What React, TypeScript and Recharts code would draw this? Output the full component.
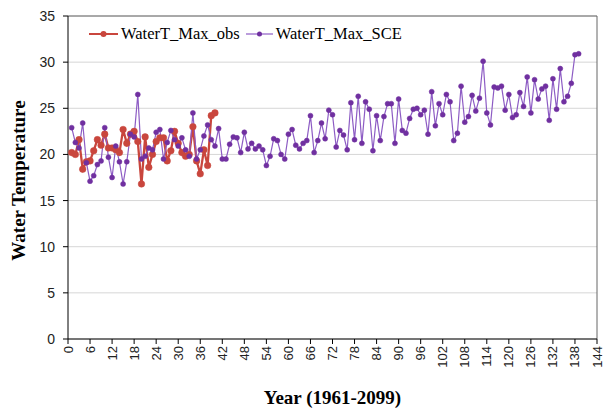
import React from 'react';
import { LineChart, Line, XAxis, YAxis, CartesianGrid, Legend, ReferenceLine } from 'recharts';

const obsName = 'WaterT_Max_obs';
const sceName = 'WaterT_Max_SCE';

const obsValues = [
  20.2, 20.0, 21.6, 18.4, 19.2, 19.3, 20.4, 21.6, 21.0, 22.2,
  20.7, 20.7, 20.5, 20.2, 22.7, 21.2, 22.2, 22.5, 21.4, 16.8,
  21.9, 18.6, 20.0, 21.4, 21.8, 21.8, 19.3, 20.4, 22.5, 21.2,
  20.2, 19.8, 20.0, 23.0, 19.3, 17.9, 20.5, 18.8, 24.2, 24.5,
];

const sceValues = [
  22.9, 21.3, 20.7, 23.4, 19.1, 17.1, 17.7, 18.9, 19.3, 22.9,
  19.7, 17.5, 20.9, 19.2, 16.8, 19.2, 22.2, 21.9, 26.5, 19.5,
  19.8, 20.7, 20.5, 22.4, 22.7, 19.5, 21.3, 22.6, 21.6, 20.9,
  21.8, 20.5, 19.8, 24.5, 19.5, 20.5, 22.0, 23.2, 21.6, 20.9,
  22.8, 19.5, 19.5, 21.1, 21.9, 21.8, 20.2, 22.4, 20.6, 21.2,
  20.6, 20.9, 20.5, 18.8, 19.8, 21.7, 21.5, 20.0, 19.5, 22.2,
  22.7, 21.0, 20.6, 21.2, 21.5, 24.2, 20.2, 21.5, 23.4, 21.7,
  24.8, 24.3, 20.8, 22.6, 22.1, 20.5, 25.6, 21.6, 26.3, 21.2,
  25.7, 24.9, 20.4, 24.2, 21.5, 24.1, 25.5, 25.5, 21.2, 26.0,
  22.6, 22.3, 23.9, 24.9, 25.0, 24.3, 24.8, 22.2, 26.8, 23.1,
  25.5, 24.3, 26.5, 25.7, 21.5, 22.3, 27.4, 23.5, 24.1, 26.4,
  24.7, 26.1, 30.1, 24.5, 23.2, 27.3, 27.2, 27.4, 24.8, 26.5,
  24.0, 24.3, 26.7, 25.2, 28.4, 24.5, 28.1, 26.0, 27.1, 27.4,
  23.7, 28.2, 24.9, 29.3, 25.7, 26.3, 27.7, 30.8, 30.9,
];

const xTicks = [0, 6, 12, 18, 24, 30, 36, 42, 48, 54, 60, 66, 72, 78, 84, 90, 96, 102, 108, 114, 120, 126, 132, 138, 144];
const yTicks = [0, 5, 10, 15, 20, 25, 30, 35];

const data = sceValues.map((v, i) => ({
  year: i + 1,
  sce: v,
  obs: i < obsValues.length ? obsValues[i] : null,
}));

const obsColor = '#c9463d';
const sceColor = '#7030a0';
const sceLine = '#8d5cc4';

const XTick = (props: any) => {
  const { x, y, payload } = props;
  return (
    <text
      x={x}
      y={y}
      transform={`rotate(-90 ${x} ${y})`}
      textAnchor="end"
      dominantBaseline="central"
      fontSize={13}
      fontFamily="Liberation Sans"
      fill="#222"
    >
      {payload.value}
    </text>
  );
};

const YTitle = (props: any) => {
  const vb = props.viewBox || { x: 0, y: 16, width: 68, height: 323 };
  const cx = vb.x + 18;
  const cy = vb.y + vb.height / 2 + 3;
  return (
    <text
      x={cx}
      y={cy}
      transform={`rotate(-90 ${cx} ${cy})`}
      textAnchor="middle"
      dominantBaseline="central"
      fontSize={19}
      fontWeight="bold"
      fontFamily="Liberation Serif"
      fill="#000"
    >
      Water Temperature
    </text>
  );
};

const XTitle = (props: any) => {
  const vb = props.viewBox || { x: 68, y: 339, width: 529, height: 71 };
  const cx = vb.x + vb.width / 2;
  const cy = vb.y + 58;
  return (
    <text
      x={cx}
      y={cy}
      textAnchor="middle"
      dominantBaseline="central"
      fontSize={19}
      fontWeight="bold"
      fontFamily="Liberation Serif"
      fill="#000"
    >
      Year (1961-2099)
    </text>
  );
};

const LegendContent = () => (
  <div
    style={{
      display: 'flex',
      alignItems: 'center',
      fontFamily: 'Liberation Serif',
      fontSize: 16.5,
      color: '#000',
      whiteSpace: 'nowrap',
    }}
  >
    <svg width={29} height={10}>
      <line x1={0} y1={5} x2={29} y2={5} stroke={obsColor} strokeWidth={2} />
      <circle cx={14.5} cy={5} r={3} fill={obsColor} />
    </svg>
    <span style={{ marginLeft: 3 }}>{obsName}</span>
    <svg width={27} height={10} style={{ marginLeft: 6 }}>
      <line x1={0} y1={5} x2={27} y2={5} stroke={sceLine} strokeWidth={1.2} />
      <circle cx={13.5} cy={5} r={2.5} fill={sceColor} />
    </svg>
    <span style={{ marginLeft: 3 }}>{sceName}</span>
  </div>
);

export default function App() {
  return (
    <div style={{ position: 'absolute', left: 0, top: 0, width: 603, height: 410, background: '#fff' }}>
      <LineChart width={603} height={410} data={data} margin={{ top: 16, right: 6, left: 0, bottom: 0 }}>
        <CartesianGrid horizontal vertical={false} stroke="#d6d6d6" strokeWidth={1} />
        <XAxis
          type="number"
          dataKey="year"
          domain={[0, 144]}
          ticks={xTicks}
          interval={0}
          tick={<XTick />}
          tickSize={5}
          tickMargin={2}
          height={71}
          stroke="#000"
          allowDataOverflow
          label={{ content: (p: any) => <XTitle {...p} /> }}
        />
        <YAxis
          type="number"
          domain={[0, 35]}
          ticks={yTicks}
          interval={0}
          width={68}
          tickSize={5}
          tickMargin={8}
          stroke="#000"
          tick={{ fontSize: 14, fontFamily: 'Liberation Sans', fill: '#222' }}
          label={{ content: (p: any) => <YTitle {...p} /> }}
        />
        <ReferenceLine y={35} stroke="#666" strokeWidth={1} />
        <ReferenceLine x={144} stroke="#666" strokeWidth={1} />
        <Legend
          layout="horizontal"
          verticalAlign="middle"
          align="center"
          content={<LegendContent />}
          wrapperStyle={{ left: 89, top: 24, width: 360, height: 20 }}
        />
        <Line
          type="linear"
          dataKey="obs"
          name={obsName}
          stroke={obsColor}
          strokeWidth={2.3}
          dot={{ r: 3.3, fill: obsColor, stroke: obsColor, strokeWidth: 0.5 }}
          activeDot={false}
          isAnimationActive={false}
          connectNulls={false}
        />
        <Line
          type="linear"
          dataKey="sce"
          name={sceName}
          stroke={sceLine}
          strokeWidth={1.2}
          dot={{ r: 2.5, fill: sceColor, stroke: sceColor, strokeWidth: 0.5 }}
          activeDot={false}
          isAnimationActive={false}
        />
      </LineChart>
    </div>
  );
}
